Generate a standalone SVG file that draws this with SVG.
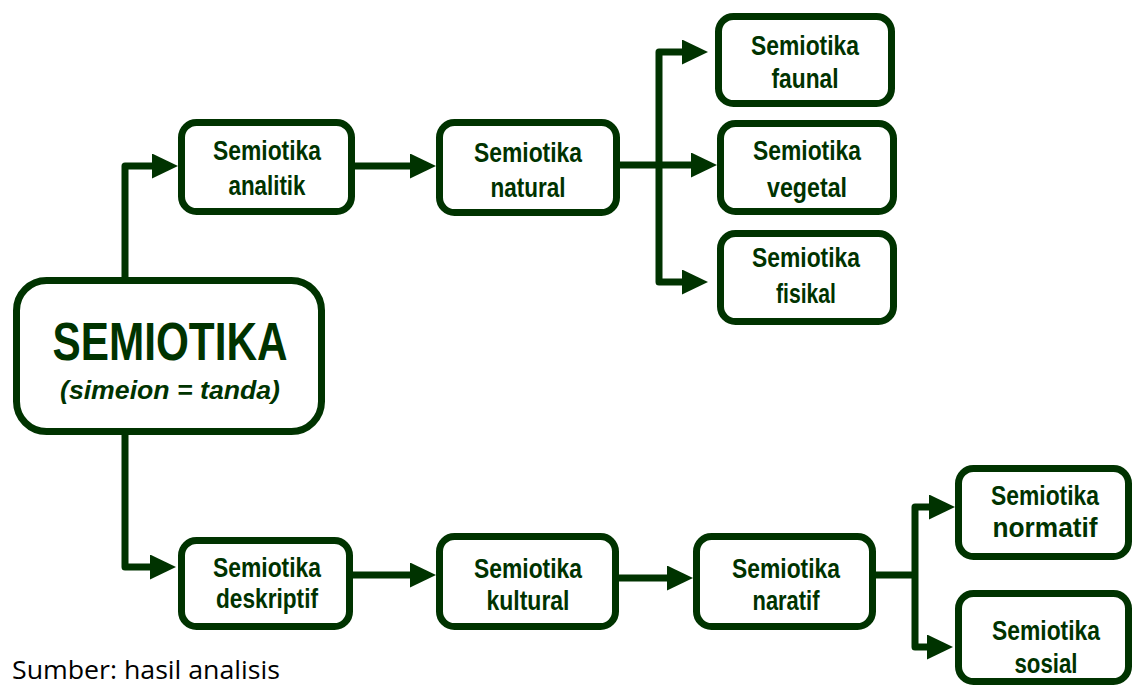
<svg xmlns="http://www.w3.org/2000/svg" width="1132" height="686" viewBox="0 0 1132 686">
<style>
.box{fill:#fff;stroke:#003300;stroke-width:7}
.lbl{font-family:"Liberation Sans",Arial,sans-serif;font-weight:bold;font-size:27px;fill:#003300;text-anchor:middle}
.con{fill:none;stroke:#003300;stroke-width:7;stroke-linejoin:round;marker-end:url(#ah)}
.plain{fill:none;stroke:#003300;stroke-width:7;stroke-linejoin:round}
</style>
<defs>
<marker id="ah" markerUnits="userSpaceOnUse" viewBox="0 0 26 25" refX="0" refY="12.5" markerWidth="26" markerHeight="25" orient="auto">
<path d="M0,0 L26,12.5 L0,25 Z" fill="#003300"/>
</marker>
</defs>
<rect width="1132" height="686" fill="#fff"/>
<g id="connectors">
<path class="con" d="M125,280 V166 H152"/>
<path class="con" d="M125,432 V567 H150"/>
<path class="con" d="M355,166 H410"/>
<path class="con" d="M620,165 H691"/>
<path class="con" d="M659,165 V52 H682"/>
<path class="con" d="M659,165 V282 H682"/>
<path class="con" d="M353,575 H410"/>
<path class="con" d="M619,578 H667"/>
<path class="plain" d="M876,575 H915"/>
<path class="con" d="M915,575 V507 H929"/>
<path class="con" d="M915,575 V647 H927"/>
</g>
<g id="semiotika">
<rect class="box" x="16.5" y="280.5" width="305" height="151" rx="30"/>
<text class="lbl" x="170" y="360" textLength="235" lengthAdjust="spacingAndGlyphs" style="font-size:54px">SEMIOTIKA</text>
<text class="lbl" x="170" y="399" textLength="220" lengthAdjust="spacingAndGlyphs" style="font-style:italic;font-size:26px">(simeion = tanda)</text>
</g>
<g id="analitik">
<rect class="box" x="181.5" y="122.5" width="170" height="89" rx="15"/>
<text class="lbl" x="267" y="160" textLength="108" lengthAdjust="spacingAndGlyphs">Semiotika</text>
<text class="lbl" x="267" y="195" textLength="77" lengthAdjust="spacingAndGlyphs">analitik</text>
</g>
<g id="natural">
<rect class="box" x="439.5" y="122.5" width="177" height="90" rx="15"/>
<text class="lbl" x="528" y="162" textLength="108" lengthAdjust="spacingAndGlyphs">Semiotika</text>
<text class="lbl" x="528" y="197" textLength="75" lengthAdjust="spacingAndGlyphs">natural</text>
</g>
<g id="faunal">
<rect class="box" x="718.5" y="16.5" width="173" height="87" rx="15"/>
<text class="lbl" x="805" y="55" textLength="108" lengthAdjust="spacingAndGlyphs">Semiotika</text>
<text class="lbl" x="805" y="88" textLength="67" lengthAdjust="spacingAndGlyphs">faunal</text>
</g>
<g id="vegetal">
<rect class="box" x="720.5" y="123.5" width="173" height="88" rx="15"/>
<text class="lbl" x="807" y="160" textLength="108" lengthAdjust="spacingAndGlyphs">Semiotika</text>
<text class="lbl" x="807" y="197" textLength="80" lengthAdjust="spacingAndGlyphs">vegetal</text>
</g>
<g id="fisikal">
<rect class="box" x="720.5" y="233.5" width="173" height="88" rx="15"/>
<text class="lbl" x="806" y="267" textLength="108" lengthAdjust="spacingAndGlyphs">Semiotika</text>
<text class="lbl" x="806" y="303" textLength="60" lengthAdjust="spacingAndGlyphs">fisikal</text>
</g>
<g id="deskriptif">
<rect class="box" x="181.5" y="540.5" width="168" height="86" rx="15"/>
<text class="lbl" x="267" y="577" textLength="108" lengthAdjust="spacingAndGlyphs">Semiotika</text>
<text class="lbl" x="267" y="608" textLength="102" lengthAdjust="spacingAndGlyphs">deskriptif</text>
</g>
<g id="kultural">
<rect class="box" x="439.5" y="536.5" width="176" height="90" rx="15"/>
<text class="lbl" x="528" y="578" textLength="108" lengthAdjust="spacingAndGlyphs">Semiotika</text>
<text class="lbl" x="528" y="610" textLength="83" lengthAdjust="spacingAndGlyphs">kultural</text>
</g>
<g id="naratif">
<rect class="box" x="696.5" y="536.5" width="176" height="90" rx="15"/>
<text class="lbl" x="786" y="578" textLength="108" lengthAdjust="spacingAndGlyphs">Semiotika</text>
<text class="lbl" x="786" y="610" textLength="67" lengthAdjust="spacingAndGlyphs">naratif</text>
</g>
<g id="normatif">
<rect class="box" x="958.5" y="468.5" width="170" height="88" rx="15"/>
<text class="lbl" x="1045" y="505" textLength="108" lengthAdjust="spacingAndGlyphs">Semiotika</text>
<text class="lbl" x="1045" y="537" textLength="105" lengthAdjust="spacingAndGlyphs">normatif</text>
</g>
<g id="sosial">
<rect class="box" x="958.5" y="593.5" width="170" height="88" rx="15"/>
<text class="lbl" x="1046" y="640" textLength="108" lengthAdjust="spacingAndGlyphs">Semiotika</text>
<text class="lbl" x="1046" y="673" textLength="63" lengthAdjust="spacingAndGlyphs">sosial</text>
</g>
<text x="12" y="679" font-family="'Open Sans','Liberation Sans',sans-serif" font-size="25" fill="#000" textLength="268" lengthAdjust="spacingAndGlyphs">Sumber: hasil analisis</text>
</svg>
